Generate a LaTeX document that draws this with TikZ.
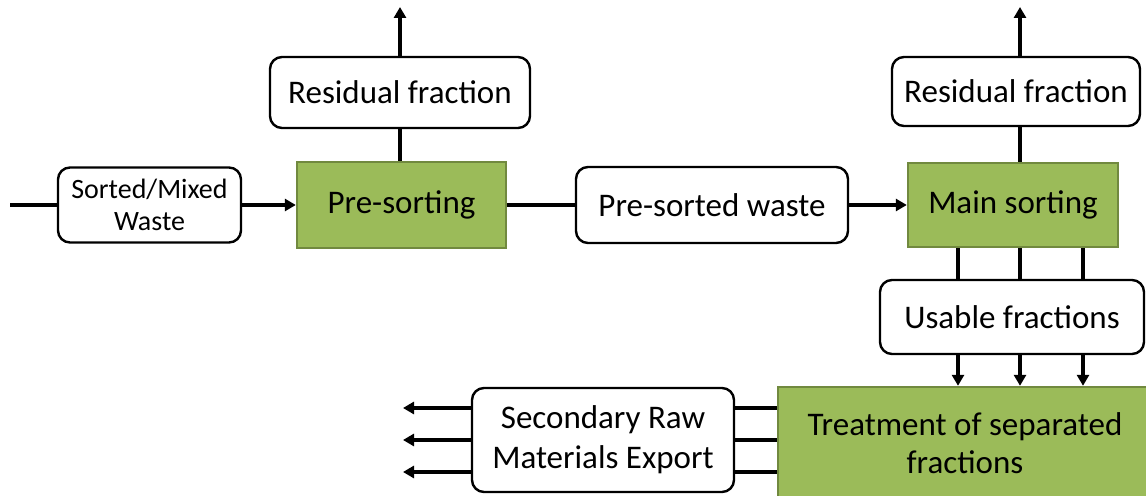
\documentclass[tikz,border=0pt]{standalone}
\usepackage{fontspec}
\setmainfont{Carlito}
\usetikzlibrary{arrows.meta}
\definecolor{boxgreen}{HTML}{9BBB59}
\definecolor{boxgreenline}{HTML}{71893F}
\begin{document}
\begin{tikzpicture}[x=0.5pt,y=-0.5pt,
  txt/.style={font=\fontsize{16.5}{20}\selectfont, align=center, inner sep=0pt},
  wbox/.style={txt, draw=black, line width=1.2pt, rounded corners=6pt, fill=white},
  gbox/.style={txt, draw=boxgreenline, line width=1.2pt, fill=boxgreen},
  conn/.style={line width=1.9pt, draw=black},
  arr/.style={conn, -{Triangle[length=5.5pt,width=6pt]}}]
\path[use as bounding box, clip] (0,0) rectangle (1146,496);
\fill[white] (0,0) rectangle (1146,496);

% nodes
\node[wbox, minimum width=91.5pt, minimum height=37.5pt,
      font=\fontsize{14}{16}\selectfont] (sm) at (149.5,205) {Sorted/Mixed\\Waste};
\node[gbox, minimum width=104.5pt, minimum height=43pt] (pre) at (401.5,205) {Pre-sorting};
\node[wbox, minimum width=130pt, minimum height=35.5pt] (res1) at (400,92.5) {Residual fraction};
\node[wbox, minimum width=136pt, minimum height=38pt] (psw) at (712,205) {Pre-sorted waste};
\node[gbox, minimum width=105pt, minimum height=42pt] (main) at (1013,205) {Main sorting};
\node[wbox, minimum width=124pt, minimum height=34.5pt] (res2) at (1016,91.5) {Residual fraction};
\node[wbox, minimum width=132pt, minimum height=37pt] (use) at (1012,317) {Usable fractions};
\node[gbox, minimum width=187pt, minimum height=56.5pt,
      font=\fontsize{16.5}{19}\selectfont] (treat) at (965,443.5) {Treatment of separated\\fractions};
\node[wbox, minimum width=131pt, minimum height=52pt,
      font=\fontsize{16.5}{20}\selectfont] (sec) at (603,440) {Secondary Raw\\Materials Export};

\coordinate (in) at (10,205);
\coordinate (top1) at (400,7);
\coordinate (top2) at (1020,7);

% connectors
\draw[conn] (in) -- (sm.west);
\draw[arr] (sm.east) -- (pre.west);
\draw[conn] (pre.east) -- (psw.west);
\draw[arr] (psw.east) -- (main.west);

\draw[conn] (pre.north -| res1.south) -- (res1.south);
\draw[arr] (res1.north) -- (top1);
\draw[conn] (main.north -| top2) -- (res2.south -| top2);
\draw[arr] (res2.north -| top2) -- (top2);

\foreach \xx in {958,1020,1083} {
  \draw[conn] (main.south -| \xx,0) -- (use.north -| \xx,0);
  \draw[arr] (use.south -| \xx,0) -- (treat.north -| \xx,0);
}

\foreach \yy in {408,440,472} {
  \draw[conn] (treat.west |- 0,\yy) -- (sec.east |- 0,\yy);
  \coordinate (out\yy) at (403,\yy);
  \draw[arr] (sec.west |- 0,\yy) -- (out\yy);
}
\end{tikzpicture}
\end{document}
